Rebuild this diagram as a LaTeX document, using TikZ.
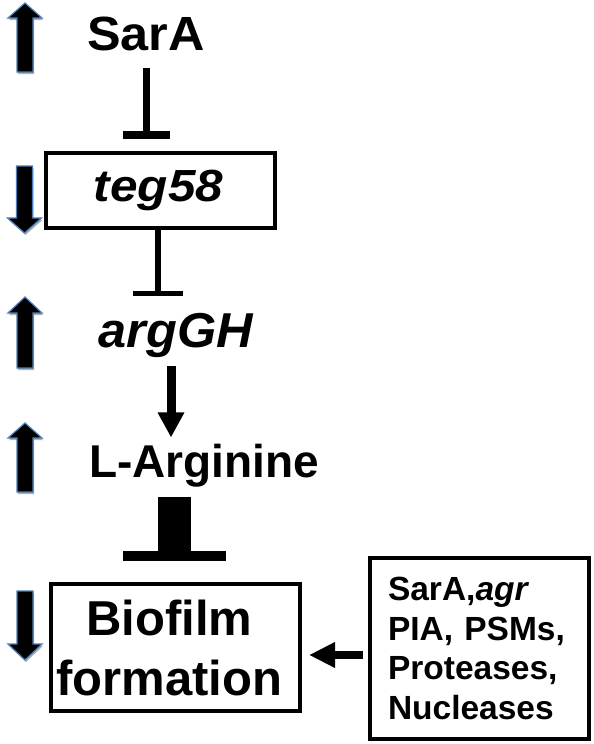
\documentclass[tikz,border=0pt]{standalone}
\usepackage{fontspec}
\setmainfont{Liberation Sans}
\usetikzlibrary{arrows.meta,shadows,calc}
\tikzset{
  lvarrow/.style={fill=black, draw={rgb,255:red,74;green,126;blue,187}, line width=1.2pt, line join=miter,
    drop shadow={shadow xshift=1pt, shadow yshift=-2pt, opacity=0.3, fill=black}},
  box/.style={draw=black, line width=4pt, rectangle, inner sep=0pt},
  plain/.style={inner sep=0pt, anchor=base},
  inhline/.style={draw=black, line cap=butt},
  actarrow/.style={draw=black, line cap=butt}
}
\newcommand{\UpArr}[4]{% cx, tip y, head base y, bottom y
  \draw[lvarrow] (#1,#2) -- (#1+17,#3) -- (#1+8,#3) -- (#1+8,#4) -- (#1-8,#4) -- (#1-8,#3) -- (#1-17,#3) -- cycle;}
\newcommand{\DownArr}[4]{% cx, top y, head base y, tip y
  \draw[lvarrow] (#1-8,#2) -- (#1+8,#2) -- (#1+8,#3) -- (#1+17,#3) -- (#1,#4) -- (#1-17,#3) -- (#1-8,#3) -- cycle;}
\begin{document}
\begin{tikzpicture}[x=1pt,y=-1pt]
\useasboundingbox[fill=white] (0,0) rectangle (594,744);

% left indicator arrows
\UpArr{25}{3}{18}{72}
\DownArr{24.5}{166}{218}{233}
\UpArr{25}{297}{313}{368}
\UpArr{25}{423}{438}{492}
\DownArr{25}{591}{644}{660}

% nodes
\node[plain, font=\fontsize{48}{58}\selectfont\bfseries] (sara) at (146,50) {\scalebox{1.05}[1]{SarA}};
\node[box, minimum width=229pt, minimum height=75pt, font=\fontsize{45}{54}\selectfont\bfseries\itshape] (teg) at (160.5,190.5) {\kern-4pt\scalebox{1.1}[1]{teg58}};
\node[plain, font=\fontsize{49}{58}\selectfont\bfseries\itshape] (arg) at (176,347) {\scalebox{1.03}[1]{argGH}};
\node[plain, font=\fontsize{46}{55}\selectfont\bfseries] (larg) at (204,477) {L-Arginine};
\node[box, minimum width=249pt, minimum height=127pt, align=center, font=\fontsize{49}{60}\selectfont\bfseries] (bio) at (175.5,647.5) {\hspace*{-12pt}Biofilm\\\hspace*{-12pt}formation};
\node[box, minimum width=219pt, minimum height=181pt, inner xsep=18pt, text width=183pt, align=left, font=\fontsize{33.5}{39.7}\selectfont\bfseries] (reg) at (479.5,648.5) {SarA,\textit{agr}\\PIA, PSMs,\\Proteases,\\Nucleases};

% SarA -| teg58
\coordinate (b1) at ($(sara.south |- teg.north)+(0,-16)$);
\draw[inhline, line width=7pt] ($(sara.south)+(0,17)$) -- (b1);
\draw[inhline, line width=8pt] ($(b1)+(-23.5,0)$) -- ($(b1)+(23.5,0)$);

% teg58 -| argGH
\coordinate (b2) at ($(teg.south |- arg.north)+(-2.5,-19)$);
\draw[inhline, line width=6pt] (teg.south -| b2) -- (b2);
\draw[inhline, line width=5.5pt] ($(b2)+(-25,0)$) -- ($(b2)+(25,0)$);

% argGH -> L-Arginine
\draw[actarrow, line width=9pt, -{Triangle[width=25pt,length=25pt]}] ($(arg.south)+(-5,9)$) -- ($(arg.south |- larg.north)+(-5,-6)$);

% L-Arginine -| Biofilm (thick)
\coordinate (b3) at ($(bio.north)+(-1,-26)$);
\draw[inhline, line width=33pt] ($(larg.south -| b3)+(0,10)$) -- (b3);
\draw[inhline, line width=10pt] ($(b3)+(-51.5,0)$) -- ($(b3)+(51.5,0)$);

% regulators -> Biofilm
\draw[actarrow, line width=8pt, -{Triangle[width=24pt,length=26pt]}] ($(reg.west |- bio.east)+(-5,7.5)$) -- ($(bio.east)+(7,7.5)$);
\end{tikzpicture}
\end{document}
